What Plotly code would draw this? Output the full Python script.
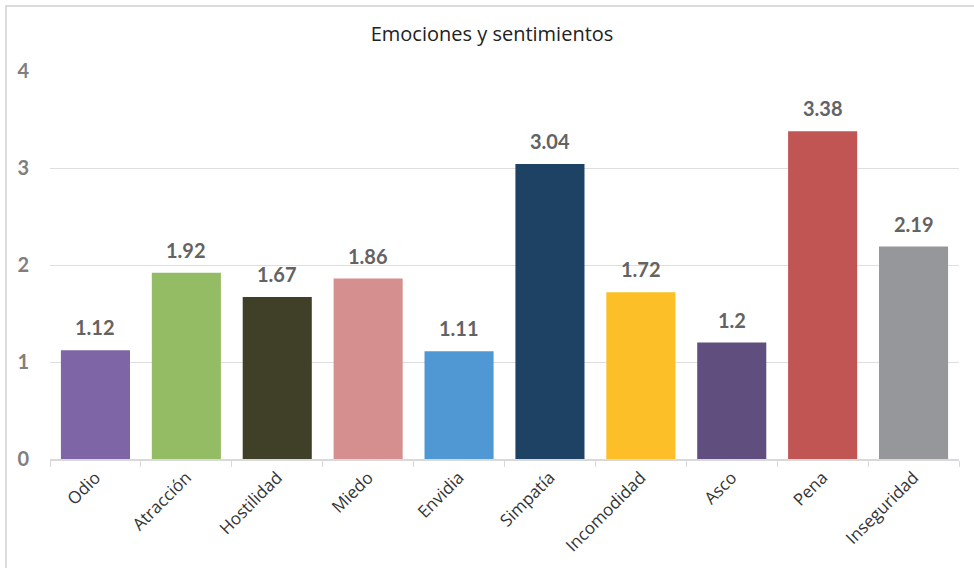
import plotly.graph_objects as go

categories = ["Odio", "Atracción", "Hostilidad", "Miedo", "Envidia", "Simpatía",
              "Incomodidad", "Asco", "Pena", "Inseguridad"]
values = [1.12, 1.92, 1.67, 1.86, 1.11, 3.04, 1.72, 1.2, 3.38, 2.19]
labels = ["1.12", "1.92", "1.67", "1.86", "1.11", "3.04", "1.72", "1.2", "3.38", "2.19"]
colors = ["#7e66a6", "#94bc64", "#404028", "#d58f8e", "#4f98d4", "#1d4263",
          "#fdbf27", "#604f7e", "#c05553", "#96979b"]
y_ticks = [0, 1, 2, 3, 4]

fig = go.Figure(go.Bar(
    x=categories, y=values, marker=dict(color=colors, line=dict(width=0)),
))

for c, v, t in zip(categories, values, labels):
    fig.add_annotation(x=c, y=v, text=t, showarrow=False, yanchor="bottom", yshift=9,
                       font=dict(family="Lato", size=20, color="#636363", weight="bold"))

W, H = 974, 568
ml, mr, mt, mb = 50, 15, 71, 109
pw, ph = W - ml - mr, H - mt - mb

fig.update_layout(
    width=W, height=H,
    margin=dict(l=ml, r=mr, t=mt, b=mb),
    paper_bgcolor="white", plot_bgcolor="white",
    bargap=0.24, showlegend=False,
    title=dict(text="Emociones y sentimientos", x=492 / W, xref="container", xanchor="center",
               y=1 - 34 / H, yref="container", yanchor="middle",
               font=dict(family="Open Sans", size=20, color="#222222")),
    xaxis=dict(type="category", tickangle=-45, ticks="outside", tickson="boundaries",
               ticklen=6, tickcolor="#d9d9d9", showline=True, linecolor="#d9d9d9",
               linewidth=2, showgrid=False,
               tickfont=dict(family="Open Sans", size=17, color="#333333")),
    yaxis=dict(range=[0, 4], tickvals=y_ticks, showgrid=True, gridcolor="#dedede",
               gridwidth=1, zeroline=False, showline=False, ticks="", ticklabelstandoff=20,
               tickfont=dict(family="Lato", size=20, color="#7f7f7f", weight="bold")),
)

fig.add_shape(type="rect", xref="paper", yref="paper",
              x0=(6 - ml) / pw, x1=(990 - ml) / pw,
              y0=(mt + ph - 580) / ph, y1=1 + (mt - 6) / ph,
              line=dict(color="#d0d0d0", width=1.5), fillcolor="rgba(0,0,0,0)", layer="below")

fig.write_html("out.html")
